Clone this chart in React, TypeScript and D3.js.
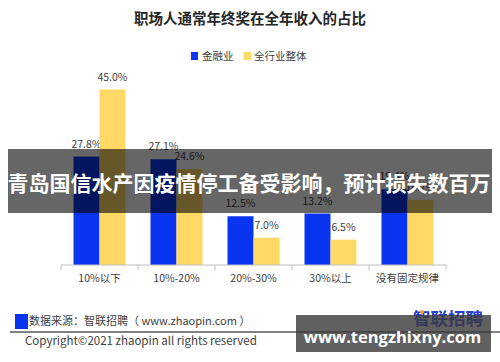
import React from 'react';
import * as d3 from 'd3';

// Chart data
const categories = ['10%以下', '10%-20%', '20%-30%', '30%以上', '没有固定规律'];
const seriesNames = ['金融业', '全行业整体'];
const finance = [27.8, 27.1, 12.5, 13.2, 19.4];
const allIndustry = [45.0, 24.6, 7.0, 6.5, 16.7];
const seriesColors = ['#0a35f0', '#ffd966'];

const W = 500;
const H = 362;
const FONT = '"Noto Sans CJK SC", "Noto Sans", sans-serif';

export default function App() {
  const baseY = 265;
  const x0 = d3.scaleBand<string>().domain(categories).range([61, 446]);
  const x1 = d3
    .scaleBand<string>()
    .domain(seriesNames)
    .range([(x0.bandwidth() - 52) / 2, (x0.bandwidth() + 52) / 2]);
  const y = d3.scaleLinear().domain([0, 50]).range([baseY, 70]);

  const values = [finance, allIndustry];
  const tickXs = [...categories.map((c) => x0(c) as number), x0.range()[1]];

  return (
    <div style={{ position: 'absolute', left: 0, top: 0 }}>
      <svg width={W} height={H} viewBox={`0 0 ${W} ${H}`} style={{ display: 'block', background: '#fff', fontFamily: FONT }}>
        {/* title */}
        <text x={250} y={24} textAnchor="middle" fontSize={14.5} fontWeight={700} fill="#262626">
          职场人通常年终奖在全年收入的占比
        </text>

        {/* legend */}
        <g fontSize={10.5} fill="#404040">
          <rect x={191} y={52} width={7} height={8} fill={seriesColors[0]} />
          <text x={202} y={60}>{seriesNames[0]}</text>
          <rect x={244} y={52} width={7} height={8} fill={seriesColors[1]} />
          <text x={254} y={60}>{seriesNames[1]}</text>
        </g>

        {/* bars */}
        {categories.map((c, i) => (
          <g key={c} transform={`translate(${x0(c)},0)`}>
            {seriesNames.map((s, k) => {
              const v = values[k][i];
              const bx = x1(s) as number;
              return (
                <g key={s}>
                  <rect x={bx} y={y(v)} width={x1.bandwidth()} height={baseY - y(v)} fill={seriesColors[k]} />
                  <text x={bx + x1.bandwidth() / 2} y={y(v) - 9} textAnchor="middle" fontSize={10.5} fill="#404040">
                    {v.toFixed(1)}%
                  </text>
                </g>
              );
            })}
          </g>
        ))}

        {/* x axis */}
        <line x1={61} x2={446} y1={baseY} y2={baseY} stroke="#bfbfbf" strokeWidth={1} />
        {tickXs.map((t, i) => (
          <line key={i} x1={t} x2={t} y1={baseY} y2={baseY + 5} stroke="#bfbfbf" strokeWidth={1} />
        ))}
        {categories.map((c) => (
          <text key={c} x={(x0(c) as number) + x0.bandwidth() / 2} y={282} textAnchor="middle" fontSize={10.5} fill="#404040">
            {c}
          </text>
        ))}

        {/* footer */}
        <rect x={15} y={314} width={13} height={15} fill="#0a35f0" />
        <text x={29} y={324.5} fontSize={11} fill="#404040">数据来源：智联招聘（ www.zhaopin.com ）</text>
        <line x1={10} x2={500} y1={332} y2={332} stroke="#595959" strokeWidth={1.3} />
        <text x={25} y={345} fontSize={11.5} fill="#404040">Copyright©2021 zhaopin all rights reserved</text>
        <text x={413} y={325} fontSize={17.5} fontWeight={700} fill="#2a3fd0">智联招聘</text>
        <circle cx={422} cy={312} r={2} fill="#f5a623" />

        {/* overlays */}
        <rect x={8} y={149} width={484} height={64} fill="#000" fillOpacity={0.6} />
        <text x={249} y={191} textAnchor="middle" fontSize={21} fontWeight={700} fill="#fff">
          青岛国信水产因疫情停工备受影响，预计损失数百万
        </text>
        <rect x={296} y={315} width={195} height={37} fill="#3a3a3a" fillOpacity={0.8} />
        <text x={392.5} y={343} textAnchor="middle" fontSize={16.5} fontWeight={700} fill="#fff" fontFamily='"Open Sans", "DejaVu Sans", sans-serif'>
          www.tengzhixny.com
        </text>
      </svg>
    </div>
  );
}
